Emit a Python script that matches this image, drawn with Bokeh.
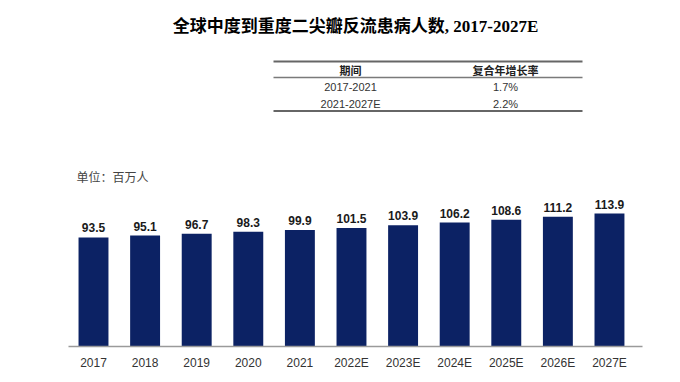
from bokeh.plotting import figure
from bokeh.models import Range1d, FixedTicker, Label, BoxAnnotation, ColumnDataSource
from bokeh.core.properties import value
from bokeh.embed import file_html
from bokeh.resources import INLINE

years = ["2017", "2018", "2019", "2020", "2021", "2022E", "2023E", "2024E", "2025E", "2026E", "2027E"]
patients = [93.5, 95.1, 96.7, 98.3, 99.9, 101.5, 103.9, 106.2, 108.6, 111.2, 113.9]
title_text = "全球中度到重度二尖瓣反流患病人数, 2017-2027E"
unit_text = "单位：百万人"
table_headers = ["期间", "复合年增长率"]
table_periods = ["2017-2021", "2021-2027E"]
table_cagr = ["1.7%", "2.2%"]

W, H = 680, 382
BL, BR, BB = 68, 38, 36
idx = list(range(len(years)))
src = ColumnDataSource(dict(x=idx, y=patients, lab=[f"{v:.1f}" for v in patients]))

p = figure(width=W, height=H, output_backend="svg", toolbar_location=None,
           x_range=Range1d(-0.4845, 10.64), y_range=Range1d(0, 296.5),
           min_border_left=BL, min_border_right=BR, min_border_top=0, min_border_bottom=BB)
p.outline_line_color = None
p.background_fill_color = "white"
p.xgrid.grid_line_color = None
p.ygrid.grid_line_color = None
p.yaxis.visible = False

p.vbar(x="x", top="y", width=0.58, source=src, fill_color="#0c2264", line_color=None)
p.text(x="x", y="y", text="lab", source=src, text_align="center", text_baseline="bottom",
       y_offset=-5, text_font=value("Liberation Sans"), text_font_style="bold",
       text_font_size="12px", text_color="#1a1a1a")

ax = p.xaxis[0]
ax.ticker = FixedTicker(ticks=idx)
ax.major_label_overrides = {i: y for i, y in zip(idx, years)}
ax.major_tick_line_color = None
ax.minor_tick_line_color = None
ax.axis_line_color = "#9a9a9a"
ax.axis_line_width = 1.5
ax.major_label_standoff = 3
ax.major_label_text_font = "Liberation Sans"
ax.major_label_text_font_size = "12px"
ax.major_label_text_color = "#333333"

def lbl(x, y, t, size, bold=False, font="Liberation Sans", align="center", color="#222222"):
    p.add_layout(Label(x=x, y=y, x_units="screen", y_units="screen", text=t,
                       text_font=font, text_font_size=size,
                       text_font_style="bold" if bold else "normal",
                       text_align=align, text_baseline="middle", text_color=color))

lbl(287, 320, title_text, "17px", bold=True, font="'Liberation Serif', 'Noto Sans CJK SC'", color="#000000")
lbl(8, 169, unit_text, "12px", align="left", font="'Liberation Sans', 'Noto Sans CJK SC'", color="#444444")

cols = [282, 437]
for c, h in zip(cols, table_headers):
    lbl(c, 276, h, "11px", bold=True, font="'Liberation Sans', 'Noto Sans CJK SC'")
for ry, a, b in zip([260, 243], table_periods, table_cagr):
    lbl(cols[0], ry, a, "11px", color="#333333")
    lbl(cols[1], ry, b, "11px", color="#333333")

for yy, th, col in [(285, 2, "#666666"), (269, 1.5, "#7a7a7a"), (235.5, 2, "#666666")]:
    p.add_layout(BoxAnnotation(left=205, right=514, bottom=yy - th / 2, top=yy + th / 2,
                               left_units="screen", right_units="screen",
                               bottom_units="screen", top_units="screen",
                               fill_color=col, fill_alpha=1, line_color=None))

open("out.html", "w").write(file_html(p, INLINE))
